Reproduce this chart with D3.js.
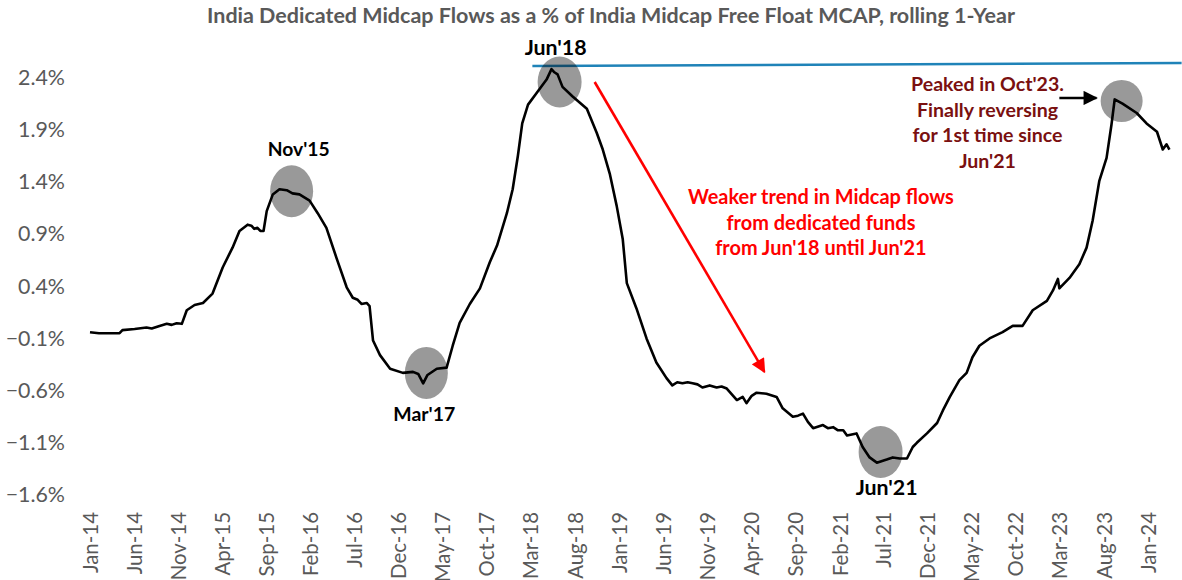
<!DOCTYPE html>
<html><head><meta charset="utf-8">
<script src="https://cdn.jsdelivr.net/npm/d3@7"></script>
<style>body{margin:0;background:#fff;} svg{display:block;font-family:Lato,'Open Sans',sans-serif;}</style>
</head><body><svg id="c" width="1182" height="580"></svg>
<script>
// ---------------- data ----------------
const dates = ["2014-01-01","2014-02-01","2014-03-02","2014-04-13","2014-04-23","2014-06-04","2014-07-15","2014-08-02","2014-08-29","2014-09-23","2014-10-10","2014-10-27","2014-11-14","2014-12-01","2014-12-28","2015-01-26","2015-02-28","2015-04-04","2015-05-08","2015-06-01","2015-06-29","2015-07-12","2015-07-22","2015-08-02","2015-08-12","2015-08-23","2015-09-03","2015-09-24","2015-10-17","2015-11-11","2015-12-01","2015-12-25","2016-01-29","2016-02-26","2016-03-27","2016-05-01","2016-06-05","2016-06-26","2016-07-13","2016-07-26","2016-08-13","2016-08-23","2016-09-04","2016-09-28","2016-11-02","2016-12-16","2017-01-20","2017-02-07","2017-02-24","2017-03-11","2017-04-12","2017-05-16","2017-06-06","2017-06-30","2017-08-04","2017-09-08","2017-10-12","2017-11-06","2017-12-10","2017-12-30","2018-01-17","2018-02-01","2018-02-21","2018-03-22","2018-04-26","2018-05-13","2018-05-23","2018-06-03","2018-06-20","2018-07-24","2018-09-12","2018-10-16","2018-11-06","2018-11-30","2018-12-24","2019-01-14","2019-01-28","2019-03-02","2019-04-06","2019-05-10","2019-06-14","2019-07-04","2019-07-21","2019-08-08","2019-08-26","2019-09-12","2019-09-29","2019-10-16","2019-11-10","2019-12-04","2019-12-21","2020-01-08","2020-02-12","2020-03-03","2020-03-16","2020-04-03","2020-04-20","2020-05-24","2020-06-28","2020-07-19","2020-08-23","2020-09-10","2020-09-27","2020-10-14","2020-11-01","2020-12-05","2020-12-22","2021-01-09","2021-01-26","2021-02-13","2021-02-26","2021-03-31","2021-04-21","2021-05-15","2021-06-09","2021-07-13","2021-08-03","2021-08-27","2021-09-21","2021-10-11","2021-10-25","2021-11-29","2022-01-03","2022-01-23","2022-02-16","2022-03-21","2022-04-15","2022-05-05","2022-05-29","2022-07-03","2022-08-17","2022-09-21","2022-10-25","2022-11-29","2023-01-17","2023-02-07","2023-02-24","2023-03-01","2023-04-05","2023-05-09","2023-06-03","2023-06-24","2023-07-17","2023-08-11","2023-08-28","2023-09-08","2023-10-05","2023-11-23","2023-12-27","2024-02-01","2024-02-21","2024-03-05","2024-03-15"];
const values = [-0.04,-0.05,-0.05,-0.05,-0.02,-0.01,0.005,-0.005,0.02,0.04,0.03,0.045,0.04,0.17,0.22,0.24,0.33,0.58,0.77,0.93,0.99,0.98,0.95,0.96,0.93,0.93,1.12,1.28,1.33,1.32,1.29,1.28,1.22,1.10,0.96,0.67,0.39,0.29,0.27,0.23,0.24,0.21,-0.12,-0.26,-0.39,-0.43,-0.42,-0.44,-0.53,-0.45,-0.39,-0.38,-0.17,0.05,0.23,0.38,0.63,0.79,1.10,1.33,1.65,1.96,2.14,2.25,2.38,2.48,2.45,2.43,2.31,2.22,2.10,1.87,1.71,1.48,1.17,0.85,0.43,0.19,-0.10,-0.33,-0.48,-0.55,-0.52,-0.53,-0.52,-0.53,-0.54,-0.57,-0.55,-0.57,-0.56,-0.58,-0.69,-0.66,-0.72,-0.65,-0.62,-0.63,-0.66,-0.77,-0.85,-0.84,-0.82,-0.90,-0.96,-0.93,-0.96,-0.95,-0.98,-0.98,-1.03,-1.01,-1.14,-1.24,-1.29,-1.26,-1.24,-1.25,-1.25,-1.14,-1.10,-1.01,-0.91,-0.79,-0.66,-0.50,-0.43,-0.28,-0.17,-0.10,-0.04,0.02,0.02,0.17,0.26,0.36,0.47,0.38,0.48,0.61,0.77,1.03,1.41,1.63,1.95,2.19,2.15,2.06,1.96,1.88,1.71,1.76,1.71];

const xTickLabels = ["Jan-14","Jun-14","Nov-14","Apr-15","Sep-15","Feb-16","Jul-16","Dec-16","May-17","Oct-17","Mar-18","Aug-18","Jan-19","Jun-19","Nov-19","Apr-20","Sep-20","Feb-21","Jul-21","Dec-21","May-22","Oct-22","Mar-23","Aug-23","Jan-24"];
const yTicks = [-1.6,-1.1,-0.6,-0.1,0.4,0.9,1.4,1.9,2.4];

const title = "India Dedicated Midcap Flows as a % of India Midcap Free Float MCAP, rolling 1-Year";

// highlighted turning points
const hlLabels = ["Nov'15","Mar'17","Jun'18","Jun'21",""];
const hlDates  = ["2015-11-28","2017-03-07","2018-06-10","2021-06-22","2023-10-02"];
const hlValues = [1.31,-0.43,2.357,-1.188,2.175];

// reference level (Jun'18 peak)
const refDates = ["2018-03-08","2024-04-26"];
const refValues = [2.51,2.539];

// trend arrow
const trendDates = ["2018-10-09","2020-05-17"];
const trendValues = [2.357,-0.421];
const trendText = ["Weaker trend in Midcap flows","from dedicated funds","from Jun'18 until Jun'21"];
const trendTextAt = {date:"2020-11-28", value:1.255};

// peak note
const peakArrowDates = ["2023-03-01","2023-07-07"];
const peakArrowValue = 2.204;
const peakText = ["Peaked in Oct'23.","Finally reversing","for 1st time since","Jun'21"];
const peakTextAt = {date:"2022-06-26", value:2.338};

// ---------------- chart ----------------
const parse = d3.utcParse("%Y-%m-%d");
const fmtTick = d3.utcFormat("%b-%y");
const svg = d3.select("#c");

const x = d3.scaleUtc().domain([parse("2014-01-01"), parse("2024-01-01")]).range([90, 1148]);
const y = d3.scaleLinear().domain([-1.6, 2.4]).range([495, 77.5]);

const series = dates.map((d,i)=>({d:parse(d), v:values[i]}));

function fit(sel, w){
  const fs = parseFloat(sel.attr("font-size"));
  const L = sel.node().getComputedTextLength();
  sel.attr("font-size", (fs*w/L).toFixed(2));
  return fs*w/L;
}

// title
const t = svg.append("text").attr("x",611).attr("y",23).attr("text-anchor","middle")
  .attr("font-weight","bold").attr("font-size",20).attr("fill","#595959").text(title);
fit(t, 808);

// y axis (labels only)
const yAxis = d3.axisLeft(y).tickValues(yTicks).tickSize(0).tickPadding(0)
  .tickFormat(d => d3.format(".1f")(d) + "%");
const gy = svg.append("g").attr("transform","translate(65,0)").call(yAxis);
gy.select(".domain").remove();
gy.selectAll("text").attr("fill","#595959").attr("font-family","Lato,'Open Sans',sans-serif").attr("font-size",20);
{
  const s = gy.selectAll("text").filter(d=>d===2.4);
  const fs = fit(s, 47);
  gy.selectAll("text").attr("font-size", fs.toFixed(2));
}

// x axis (labels only, rotated)
const xTickDates = xTickLabels.map(s => d3.utcParse("%b-%y")(s));
const xAxis = d3.axisBottom(x).tickValues(xTickDates).tickSize(0).tickPadding(0).tickFormat(fmtTick);
const gx = svg.append("g").attr("transform","translate(0,512)").call(xAxis);
gx.select(".domain").remove();
gx.selectAll("text").attr("fill","#595959").attr("font-family","Lato,'Open Sans',sans-serif")
  .attr("font-size",20).attr("text-anchor","end").attr("transform","rotate(-90)")
  .attr("x",0).attr("y",0).attr("dy","0.36em");
{
  const s = gx.selectAll("text").filter((d,i)=>i===0);
  const fs = fit(s, 61);
  gx.selectAll("text").attr("font-size", fs.toFixed(2));
}

// reference blue line
svg.append("line")
  .attr("x1", x(parse(refDates[0]))).attr("y1", y(refValues[0]))
  .attr("x2", x(parse(refDates[1]))).attr("y2", y(refValues[1]))
  .attr("stroke","#1f83b8").attr("stroke-width",2.5);

// main series
svg.append("path").datum(series)
  .attr("fill","none").attr("stroke","#000").attr("stroke-width",2.6)
  .attr("stroke-linejoin","round")
  .attr("d", d3.line().x(d=>x(d.d)).y(d=>y(d.v)));

// highlight ellipses
const ell = [[21.5,26],[21.5,26],[22,25.5],[22,26],[21,21]];
const lblOff = [[7,-42],[-2,41],[-4,-35],[6,35],[0,0]];
hlDates.forEach((d,i)=>{
  const cx = x(parse(d)), cy = y(hlValues[i]);
  svg.append("ellipse").attr("cx",cx).attr("cy",cy).attr("rx",ell[i][0]).attr("ry",ell[i][1])
    .attr("fill","#000").attr("fill-opacity",0.4);
  if (hlLabels[i]) {
    const s = svg.append("text").attr("x",cx+lblOff[i][0]).attr("y",cy+lblOff[i][1]).attr("dy","0.36em")
      .attr("text-anchor","middle").attr("font-weight","bold").attr("font-size",20).attr("fill","#000")
      .text(hlLabels[i]);
    fit(s, 62);
  }
});

// arrow markers
const defs = svg.append("defs");
function marker(id, color){
  defs.append("marker").attr("id",id).attr("viewBox","0 0 10 10").attr("refX",9).attr("refY",5)
    .attr("markerWidth",6).attr("markerHeight",5.5).attr("markerUnits","strokeWidth").attr("orient","auto")
    .append("path").attr("d","M0,0 L10,5 L0,10 z").attr("fill",color);
}
marker("ar","#ff0000"); marker("ab","#000");

svg.append("line")
  .attr("x1", x(parse(trendDates[0]))).attr("y1", y(trendValues[0]))
  .attr("x2", x(parse(trendDates[1]))).attr("y2", y(trendValues[1]))
  .attr("stroke","#ff0000").attr("stroke-width",2.6).attr("marker-end","url(#ar)");

svg.append("line")
  .attr("x1", x(parse(peakArrowDates[0]))).attr("y1", y(peakArrowValue))
  .attr("x2", x(parse(peakArrowDates[1]))).attr("y2", y(peakArrowValue))
  .attr("stroke","#000").attr("stroke-width",2.6).attr("marker-end","url(#ab)");

// text blocks
const trendW = [266,188,209];
let fsT = null;
trendText.forEach((s,i)=>{
  const tx = svg.append("text").attr("x", x(parse(trendTextAt.date))).attr("y", y(trendTextAt.value) + i*25.5)
    .attr("dy","0.36em").attr("text-anchor","middle").attr("font-weight","bold").attr("font-size",20)
    .attr("fill","#ff0000").text(s);
  if (i===0) fsT = fit(tx, trendW[0]); else tx.attr("font-size", fsT.toFixed(2));
});
let fsP = null;
peakText.forEach((s,i)=>{
  const tx = svg.append("text").attr("x", x(parse(peakTextAt.date))).attr("y", y(peakTextAt.value) + i*25.5)
    .attr("dy","0.36em").attr("text-anchor","middle").attr("font-weight","bold").attr("font-size",20)
    .attr("fill","#7a1010").text(s);
  if (i===0) fsP = fit(tx, 153); else tx.attr("font-size", fsP.toFixed(2));
});
</script></body></html>
